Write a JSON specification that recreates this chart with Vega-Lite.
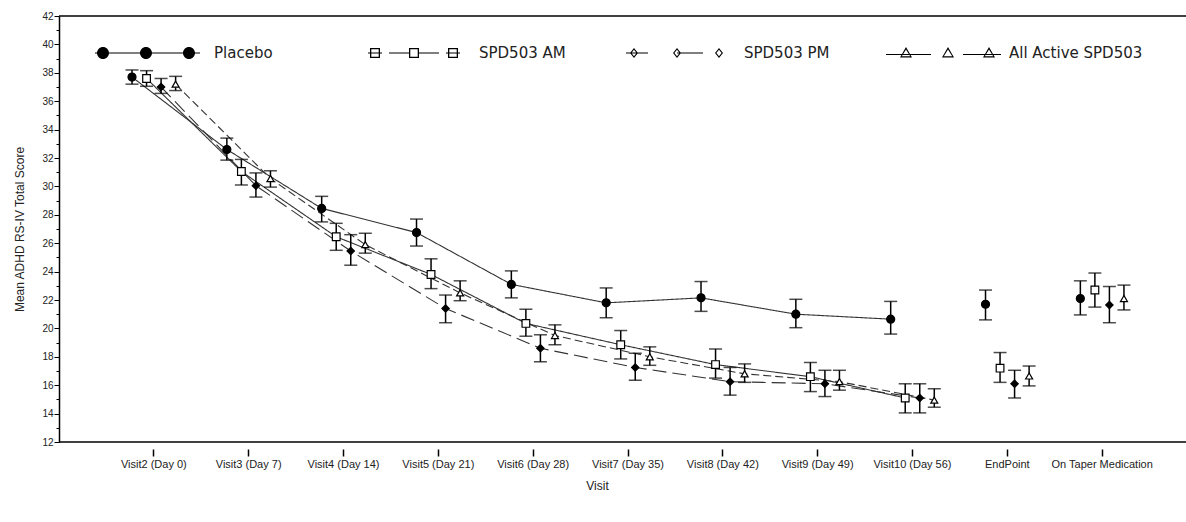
{
  "$schema": "https://vega.github.io/schema/vega-lite/v6.json",
  "width": 1127,
  "height": 426,
  "autosize": {"type": "none"},
  "padding": {"left": 59, "top": 16, "right": 0, "bottom": 80},
  "background": "white",
  "config": {
    "view": {"stroke": null},
    "axis": {"grid": false, "labelFont": "Liberation Sans", "titleFont": "Liberation Sans", "titleFontWeight": "normal", "labelColor": "#222", "titleColor": "#222"}
  },
  "datasets": {
    "scores": [
      {"visit": "Visit2 (Day 0)", "group": "Placebo", "mean": 37.7, "lo": 37.2, "hi": 38.2},
      {"visit": "Visit3 (Day 7)", "group": "Placebo", "mean": 32.6, "lo": 31.85, "hi": 33.4},
      {"visit": "Visit4 (Day 14)", "group": "Placebo", "mean": 28.45, "lo": 27.5, "hi": 29.3},
      {"visit": "Visit5 (Day 21)", "group": "Placebo", "mean": 26.75, "lo": 25.8, "hi": 27.7},
      {"visit": "Visit6 (Day 28)", "group": "Placebo", "mean": 23.1, "lo": 22.15, "hi": 24.05},
      {"visit": "Visit7 (Day 35)", "group": "Placebo", "mean": 21.8, "lo": 20.75, "hi": 22.85},
      {"visit": "Visit8 (Day 42)", "group": "Placebo", "mean": 22.15, "lo": 21.2, "hi": 23.3},
      {"visit": "Visit9 (Day 49)", "group": "Placebo", "mean": 21.0, "lo": 20.05, "hi": 22.05},
      {"visit": "Visit10 (Day 56)", "group": "Placebo", "mean": 20.65, "lo": 19.6, "hi": 21.9},
      {"visit": "EndPoint", "group": "Placebo", "mean": 21.7, "lo": 20.6, "hi": 22.7},
      {"visit": "On Taper Medication", "group": "Placebo", "mean": 22.1, "lo": 20.95, "hi": 23.35},
      {"visit": "Visit2 (Day 0)", "group": "SPD503 AM", "mean": 37.6, "lo": 37.05, "hi": 38.15},
      {"visit": "Visit3 (Day 7)", "group": "SPD503 AM", "mean": 31.05, "lo": 30.1, "hi": 31.9},
      {"visit": "Visit4 (Day 14)", "group": "SPD503 AM", "mean": 26.45, "lo": 25.5, "hi": 27.4},
      {"visit": "Visit5 (Day 21)", "group": "SPD503 AM", "mean": 23.8, "lo": 22.8, "hi": 24.9},
      {"visit": "Visit6 (Day 28)", "group": "SPD503 AM", "mean": 20.35, "lo": 19.45, "hi": 21.35},
      {"visit": "Visit7 (Day 35)", "group": "SPD503 AM", "mean": 18.85, "lo": 17.85, "hi": 19.85},
      {"visit": "Visit8 (Day 42)", "group": "SPD503 AM", "mean": 17.45, "lo": 16.5, "hi": 18.55},
      {"visit": "Visit9 (Day 49)", "group": "SPD503 AM", "mean": 16.6, "lo": 15.55, "hi": 17.6},
      {"visit": "Visit10 (Day 56)", "group": "SPD503 AM", "mean": 15.1, "lo": 14.05, "hi": 16.1},
      {"visit": "EndPoint", "group": "SPD503 AM", "mean": 17.2, "lo": 16.2, "hi": 18.3},
      {"visit": "On Taper Medication", "group": "SPD503 AM", "mean": 22.7, "lo": 21.5, "hi": 23.9},
      {"visit": "Visit2 (Day 0)", "group": "SPD503 PM", "mean": 37.0, "lo": 36.55, "hi": 37.6},
      {"visit": "Visit3 (Day 7)", "group": "SPD503 PM", "mean": 30.05, "lo": 29.25, "hi": 30.95},
      {"visit": "Visit4 (Day 14)", "group": "SPD503 PM", "mean": 25.45, "lo": 24.45, "hi": 26.6},
      {"visit": "Visit5 (Day 21)", "group": "SPD503 PM", "mean": 21.4, "lo": 20.4, "hi": 22.35},
      {"visit": "Visit6 (Day 28)", "group": "SPD503 PM", "mean": 18.6, "lo": 17.65, "hi": 19.55},
      {"visit": "Visit7 (Day 35)", "group": "SPD503 PM", "mean": 17.25, "lo": 16.35, "hi": 18.25},
      {"visit": "Visit8 (Day 42)", "group": "SPD503 PM", "mean": 16.25, "lo": 15.3, "hi": 17.25},
      {"visit": "Visit9 (Day 49)", "group": "SPD503 PM", "mean": 16.1, "lo": 15.2, "hi": 17.05},
      {"visit": "Visit10 (Day 56)", "group": "SPD503 PM", "mean": 15.1, "lo": 14.05, "hi": 16.1},
      {"visit": "EndPoint", "group": "SPD503 PM", "mean": 16.1, "lo": 15.1, "hi": 17.05},
      {"visit": "On Taper Medication", "group": "SPD503 PM", "mean": 21.65, "lo": 20.4, "hi": 22.95},
      {"visit": "Visit2 (Day 0)", "group": "All Active SPD503", "mean": 37.2, "lo": 36.75, "hi": 37.75},
      {"visit": "Visit3 (Day 7)", "group": "All Active SPD503", "mean": 30.55, "lo": 29.95, "hi": 31.1},
      {"visit": "Visit4 (Day 14)", "group": "All Active SPD503", "mean": 25.9, "lo": 25.3, "hi": 26.7},
      {"visit": "Visit5 (Day 21)", "group": "All Active SPD503", "mean": 22.5, "lo": 21.95, "hi": 23.35},
      {"visit": "Visit6 (Day 28)", "group": "All Active SPD503", "mean": 19.5, "lo": 18.85, "hi": 20.25},
      {"visit": "Visit7 (Day 35)", "group": "All Active SPD503", "mean": 18.0, "lo": 17.4, "hi": 18.7},
      {"visit": "Visit8 (Day 42)", "group": "All Active SPD503", "mean": 16.8, "lo": 16.2, "hi": 17.5},
      {"visit": "Visit9 (Day 49)", "group": "All Active SPD503", "mean": 16.25, "lo": 15.65, "hi": 17.05},
      {"visit": "Visit10 (Day 56)", "group": "All Active SPD503", "mean": 14.95, "lo": 14.45, "hi": 15.75},
      {"visit": "EndPoint", "group": "All Active SPD503", "mean": 16.65, "lo": 15.95, "hi": 17.35},
      {"visit": "On Taper Medication", "group": "All Active SPD503", "mean": 22.1, "lo": 21.3, "hi": 23.05}
    ]
  },
  "data": {"name": "scores"},
  "encoding": {
    "x": {
      "field": "visit", "type": "nominal",
      "scale": {"type": "band", "domain": ["Visit2 (Day 0)", "Visit3 (Day 7)", "Visit4 (Day 14)", "Visit5 (Day 21)", "Visit6 (Day 28)", "Visit7 (Day 35)", "Visit8 (Day 42)", "Visit9 (Day 49)", "Visit10 (Day 56)", "EndPoint", "On Taper Medication"], "paddingInner": 0, "paddingOuter": 0.5, "range": [0, 1138]},
      "axis": {"title": "Visit", "domain": false, "offset": 7, "tickSize": 7, "tickWidth": 1.5, "tickColor": "black", "labelFontSize": 11, "labelPadding": 2, "labelAngle": 0, "labelOverlap": false, "labelLimit": 0, "titleFontSize": 12, "titlePadding": 11, "titleX": 538}
    },
    "xOffset": {"field": "group", "type": "nominal", "scale": {"type": "point", "padding": 0, "range": [25.6, 69.2], "domain": ["Placebo", "SPD503 AM", "SPD503 PM", "All Active SPD503"]}},
    "y": {
      "field": "mean", "type": "quantitative",
      "scale": {"domain": [12, 42], "nice": false, "zero": false},
      "axis": {
        "title": "Mean ADHD RS-IV Total Score",
        "values": [12,13,14,15,16,17,18,19,20,21,22,23,24,25,26,27,28,29,30,31,32,33,34,35,36,37,38,39,40,41,42],
        "labelExpr": "datum.value % 2 == 0 ? datum.label : ''",
        "tickSize": {"condition": {"test": "datum.value % 2 == 0", "value": 5}, "value": 3},
        "tickColor": "black", "tickWidth": 1,
        "domainColor": "black", "domainWidth": 1.5,
        "labelFontSize": 10, "labelPadding": 1,
        "titleFontSize": 12, "titlePadding": 15
      }
    }
  },
  "layer": [
    {
      "data": {"values": [{"edge": 42}, {"edge": 12}]},
      "mark": {"type": "rule", "color": "black", "strokeWidth": 1.5},
      "encoding": {"x": null, "xOffset": null, "y": {"field": "edge", "type": "quantitative"}}
    },
    {
      "transform": [{"filter": {"not": {"field": "visit", "oneOf": ["EndPoint", "On Taper Medication"]}}}],
      "mark": {"type": "line", "color": "#333", "strokeWidth": 1.1},
      "encoding": {
        "detail": {"field": "group"},
        "strokeDash": {"field": "group", "type": "nominal", "scale": {"domain": ["Placebo", "SPD503 AM", "SPD503 PM", "All Active SPD503"], "range": [[1, 0], [1, 0], [14, 6], [8, 4]]}, "legend": null}
      }
    },
    {
      "mark": {"type": "rule", "color": "black", "strokeWidth": 1.5},
      "encoding": {"y": {"field": "lo", "type": "quantitative"}, "y2": {"field": "hi"}}
    },
    {
      "mark": {"type": "tick", "color": "black", "size": 13, "thickness": 1.5},
      "encoding": {"y": {"field": "lo", "type": "quantitative"}}
    },
    {
      "mark": {"type": "tick", "color": "black", "size": 13, "thickness": 1.5},
      "encoding": {"y": {"field": "hi", "type": "quantitative"}}
    },
    {
      "mark": {"type": "point", "filled": true, "stroke": "black", "strokeWidth": 1.2, "opacity": 1},
      "encoding": {
        "shape": {"field": "group", "type": "nominal", "scale": {"domain": ["Placebo", "SPD503 AM", "SPD503 PM", "All Active SPD503"], "range": ["circle", "square", "diamond", "triangle-up"]}, "legend": null},
        "fill": {"field": "group", "type": "nominal", "scale": {"domain": ["Placebo", "SPD503 AM", "SPD503 PM", "All Active SPD503"], "range": ["black", "white", "black", "white"]}, "legend": null},
        "size": {"field": "group", "type": "nominal", "scale": {"domain": ["Placebo", "SPD503 AM", "SPD503 PM", "All Active SPD503"], "range": [64, 49, 20, 45]}, "legend": null}
      }
    },
    {
      "transform": [{"filter": "false"}],
      "mark": {"type": "point", "filled": true, "strokeWidth": 0},
      "encoding": {
        "shape": {"field": "group", "type": "nominal",
          "scale": {"domain": ["Placebo", "SPD503 AM", "SPD503 PM", "All Active SPD503"],
            "range": [
              "M-5.1,-0.06L5.4,-0.06L5.4,0.06L-5.1,0.06ZM-4.9,0A0.6,0.6,0,1,1,-3.7,0A0.6,0.6,0,1,1,-4.9,0ZM-0.6,0A0.6,0.6,0,1,1,0.6,0A0.6,0.6,0,1,1,-0.6,0ZM3.7,0A0.6,0.6,0,1,1,4.9,0A0.6,0.6,0,1,1,3.7,0Z",
              "M-4.3,-0.06L-2.9,-0.06L-2.9,0.06L-4.3,0.06ZM-2.2,-0.06L-0.2,-0.06L-0.2,0.06L-2.2,0.06ZM0.8,-0.06L2.8,-0.06L2.8,0.06L0.8,0.06ZM3.5,-0.06L4.9,-0.06L4.9,0.06L3.5,0.06ZM-4.1,-0.5L-3.1,-0.5L-3.1,0.5L-4.1,0.5ZM-3.97,-0.37L-3.97,0.37L-3.23,0.37L-3.23,-0.37ZM-0.2,-0.5L0.8,-0.5L0.8,0.5L-0.2,0.5ZM-0.07,-0.37L-0.07,0.37L0.67,0.37L0.67,-0.37ZM3.7,-0.5L4.7,-0.5L4.7,0.5L3.7,0.5ZM3.83,-0.37L3.83,0.37L4.57,0.37L4.57,-0.37Z",
              "M-5,-0.06L-2.8,-0.06L-2.8,0.06L-5,0.06ZM0.1,-0.06L2.7,-0.06L2.7,0.06L0.1,0.06ZM-4.2,-0.5L-3.8,0L-4.2,0.5L-4.6,0ZM-4.2,-0.33L-4.46,0L-4.2,0.33L-3.94,0ZM0.1,-0.5L0.5,0L0.1,0.5L-0.3,0ZM0.1,-0.33L-0.16,0L0.1,0.33L0.36,0ZM4.3,-0.5L4.7,0L4.3,0.5L3.9,0ZM4.3,-0.33L4.04,0L4.3,0.33L4.56,0Z",
              "M-5.5,0.09L-1,0.09L-1,0.21L-5.5,0.21ZM2.2,0.09L6,0.09L6,0.21L2.2,0.21ZM-3.5,-0.6L-2.9,0.45L-4.1,0.45ZM-3.5,-0.36L-3.92,0.33L-3.08,0.33ZM0.7,-0.6L1.3,0.45L0.1,0.45ZM0.7,-0.36L0.28,0.33L1.12,0.33ZM4.8,-0.6L5.4,0.45L4.2,0.45ZM4.8,-0.36L4.38,0.33L5.22,0.33Z"
            ]},
          "legend": {"title": null, "orient": "none", "legendX": 77, "legendY": 27, "direction": "horizontal", "columns": 4, "gridAlign": "all", "columnPadding": 8, "symbolSize": 400, "symbolStrokeWidth": 0, "symbolOpacity": 1, "labelOffset": 58, "labelFont": "DejaVu Sans", "labelFontSize": 15, "labelColor": "#222", "labelLimit": 300, "padding": 0}
        },
        "fill": {"field": "group", "type": "nominal",
          "scale": {"domain": ["Placebo", "SPD503 AM", "SPD503 PM", "All Active SPD503"], "range": ["black", "black", "black", "black"]},
          "legend": {"title": null, "orient": "none", "legendX": 77, "legendY": 27, "direction": "horizontal", "columns": 4, "gridAlign": "all", "columnPadding": 8, "symbolSize": 400, "symbolStrokeWidth": 0, "symbolOpacity": 1, "labelOffset": 58, "labelFont": "DejaVu Sans", "labelFontSize": 15, "labelColor": "#222", "labelLimit": 300, "padding": 0}
        }
      }
    }
  ],
  "resolve": {"scale": {"shape": "independent", "fill": "independent"}}
}
